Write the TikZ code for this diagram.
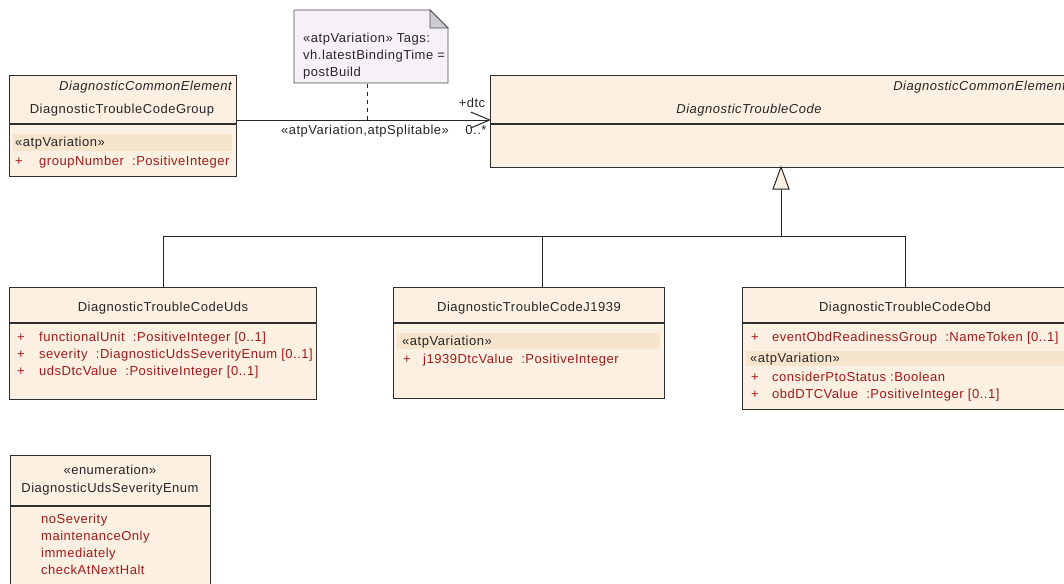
\documentclass[tikz,border=0pt]{standalone}
\usepackage{fontspec}
\setmainfont{Liberation Sans}[LetterSpace=4]
\usetikzlibrary{calc,arrows.meta}

\definecolor{boxfill}{HTML}{FBF0E1}
\definecolor{bandfill}{HTML}{F6E5CC}
\definecolor{attr}{HTML}{A01A1A}
\definecolor{edge}{HTML}{2E2E2E}
\definecolor{notefill}{HTML}{F5F1F6}
\definecolor{foldfill}{HTML}{CDCCD4}

\tikzset{
  classbox/.style={draw=edge, line width=1.2pt, fill=boxfill, anchor=north west, inner sep=0pt},
  divider/.style={draw=edge, line width=1.2pt},
  band/.style={fill=bandfill, draw=none},
  lbl/.style={inner sep=0pt, text=black!85, yshift=-2pt},
  stereo/.style={lbl, font=\fontsize{13}{15}\selectfont\itshape, anchor=mid east},
  title/.style={lbl, anchor=mid},
  row/.style={inner sep=0pt, text=attr, anchor=mid west, yshift=-2pt},
  conn/.style={draw=black!85, line width=1pt},
}

\begin{document}
\begin{tikzpicture}[x=1pt, y=-1pt, font=\fontsize{13}{15}\selectfont]
\useasboundingbox (0,0) rectangle (1064,583);
\clip (0,0) rectangle (1064,583);

% ---------- DiagnosticTroubleCodeGroup ----------
\node[classbox, minimum width=227pt, minimum height=101pt] (grp) at (9,75) {};
\draw[divider] (9,124) -- (236,124);
\node[stereo] (grpst) at (232,86) {DiagnosticCommonElement};
\node[title] (grpname) at (122,109) {DiagnosticTroubleCodeGroup};
\fill[band] (13,134) rectangle (232,151);
\node[lbl, anchor=mid west] (grpvar) at (15,142) {«atpVariation»};
\node[row] (grpp1) at (15,161) {+};
\node[row] (grpa1) at (39,161) {groupNumber\ \ :PositiveInteger};

% ---------- DiagnosticTroubleCode ----------
\node[classbox, minimum width=590pt, minimum height=92pt] (dtc) at (490,75) {};
\draw[divider] (490,124) -- (1080,124);
\node[stereo] (dtcst) at (1066,86) {DiagnosticCommonElement};
\node[lbl, anchor=mid, font=\fontsize{13}{15}\selectfont\itshape] (dtcname) at (749,109) {DiagnosticTroubleCode};

% ---------- Note ----------
\draw[draw=black!70, line width=0.8pt, fill=notefill]
  (294,10) -- (430,10) -- (448,28) -- (448,83) -- (294,83) -- cycle;
\draw[draw=black!70, line width=0.8pt, fill=foldfill] (430,10) -- (430,28) -- (448,28) -- cycle;
\node[lbl, anchor=mid west] (n1) at (303,38) {«atpVariation» Tags:};
\node[lbl, anchor=mid west] (n2) at (303,55) {vh.latestBindingTime =};
\node[lbl, anchor=mid west] (n3) at (303,72) {postBuild};
\coordinate (notefoot) at (367,84);

% ---------- Association ----------
\coordinate (assocstart) at (236,120);
\coordinate (assocend) at (491,120);
\coordinate (assocmid) at (367,120);
\draw[conn, -{Straight Barb[length=19pt, width=16pt, line width=1pt]}] (assocstart) -- (assocend);
\draw[conn, dashed, dash pattern=on 4pt off 4pt] (notefoot) -- (assocmid);
\node[lbl] (rolename) at (472,101) {+dtc};
\node[lbl] (mult) at (476,128) {0..*};
\node[lbl] (assocst) at (365,129) {«atpVariation,atpSplitable»};

% ---------- Generalization ----------
\coordinate (gtip) at (781,167);
\coordinate (gbase) at (781,189);
\coordinate (gjoin) at (781,236);
\coordinate (jl) at (163,236);
\coordinate (jm) at (542,236);
\coordinate (jr) at (905,236);
\draw[conn] (jl) -- (jr);
\draw[conn] (gjoin) -- (gbase);
\draw[conn, fill=boxfill, line join=miter] (gtip) -- (789,189) -- (773,189) -- cycle;

% ---------- DiagnosticTroubleCodeUds ----------
\node[classbox, minimum width=307pt, minimum height=112pt] (uds) at (9,287) {};
\draw[divider] (9,323) -- (316,323);
\node[title] (udsname) at (163,307) {DiagnosticTroubleCodeUds};
\node[row] at (17,337) {+};
\node[row] (udsa1) at (39,337) {functionalUnit\ \ :PositiveInteger [0..1]};
\node[row] at (17,354) {+};
\node[row] (udsa2) at (39,354) {severity\ \ :DiagnosticUdsSeverityEnum [0..1]};
\node[row] at (17,371) {+};
\node[row] (udsa3) at (39,371) {udsDtcValue\ \ :PositiveInteger [0..1]};

% ---------- DiagnosticTroubleCodeJ1939 ----------
\node[classbox, minimum width=271pt, minimum height=111pt] (j1939) at (393,287) {};
\draw[divider] (393,323) -- (664,323);
\node[title] (j1939name) at (529,307) {DiagnosticTroubleCodeJ1939};
\fill[band] (397,333) rectangle (660,349);
\node[lbl, anchor=mid west] (j1939var) at (402,341) {«atpVariation»};
\node[row] at (403,359) {+};
\node[row] (j1939a1) at (423,359) {j1939DtcValue\ \ :PositiveInteger};

% ---------- DiagnosticTroubleCodeObd ----------
\node[classbox, minimum width=330pt, minimum height=122pt] (obd) at (742,287) {};
\draw[divider] (742,323) -- (1072,323);
\node[title] (obdname) at (905,307) {DiagnosticTroubleCodeObd};
\node[row] at (751,337) {+};
\node[row] (obda1) at (772,337) {eventObdReadinessGroup\ \ :NameToken [0..1]};
\fill[band] (746,351) rectangle (1068,366);
\node[lbl, anchor=mid west] (obdvar) at (750,358) {«atpVariation»};
\node[row] at (751,377) {+};
\node[row] (obda2) at (772,377) {considerPtoStatus\ :Boolean};
\node[row] at (751,394) {+};
\node[row] (obda3) at (772,394) {obdDTCValue\ \ :PositiveInteger [0..1]};

% drops from the generalization bus to each subclass
\draw[conn] (jl) -- (jl |- uds.north);
\draw[conn] (jm) -- (jm |- j1939.north);
\draw[conn] (jr) -- (jr |- obd.north);

% ---------- DiagnosticUdsSeverityEnum ----------
\node[classbox, minimum width=200pt, minimum height=140pt] (enum) at (10,455) {};
\draw[divider] (10,506) -- (210,506);
\node[title] (enumst) at (110,470) {«enumeration»};
\node[title] (enumname) at (110,488) {DiagnosticUdsSeverityEnum};
\node[row] (lit1) at (41,519) {noSeverity};
\node[row] (lit2) at (41,536) {maintenanceOnly};
\node[row] (lit3) at (41,553) {immediately};
\node[row] (lit4) at (41,570) {checkAtNextHalt};
\end{tikzpicture}
\end{document}
